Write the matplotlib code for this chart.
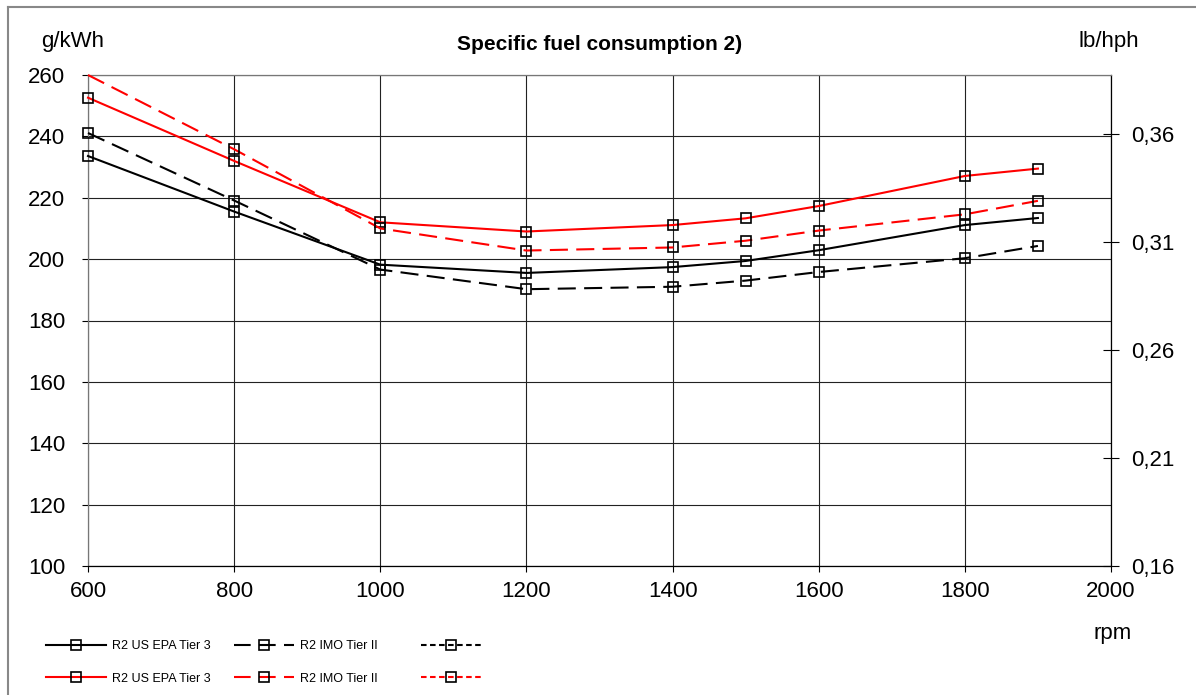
import matplotlib
matplotlib.use("Agg")
import matplotlib.pyplot as plt
from matplotlib.lines import Line2D
from matplotlib.ticker import FuncFormatter, MultipleLocator
import numpy as np

plt.rcParams['font.family'] = ['Liberation Sans', 'DejaVu Sans']
plt.rcParams['lines.scale_dashes'] = False

rpm = [600, 800, 1000, 1200, 1400, 1500, 1600, 1800, 1900]
black_epa = [233.6, 215.5, 198.2, 195.5, 197.4, 199.4, 202.9, 211.1, 213.4]
black_imo = [241.1, 219.1, 196.6, 190.2, 191.0, 193.0, 195.8, 200.3, 204.3]
red_epa = [252.6, 232.0, 212.0, 209.0, 211.1, 213.3, 217.3, 227.1, 229.5]
red_imo = [260.0, 235.8, 210.0, 202.8, 203.8, 206.0, 209.3, 214.6, 219.0]
labels = ["R2 US EPA Tier 3", "R2 IMO Tier II", ""]

W, H = 1196, 695
fig = plt.figure(figsize=(W / 100, H / 100), dpi=100)
ax = fig.add_axes([88 / W, 1 - 566 / H, (1111 - 88) / W, (566 - 75) / H])

dash_long = (13, 6)
dash_short = (4, 2.5)
mk = dict(marker='s', markersize=7.3, markerfacecolor='none',
          markeredgecolor='black', markeredgewidth=1.2, clip_on=False)

ax.plot(rpm, black_epa, color='black', lw=1.5, **mk, zorder=3)
ax.plot(rpm, black_imo, color='black', lw=1.5, dashes=dash_long, **mk, zorder=3)
ax.plot(rpm, red_epa, color='#ff0000', lw=1.5, **mk, zorder=4)
ax.plot(rpm, red_imo, color='#ff0000', lw=1.5, dashes=dash_long,
        markevery=list(range(1, len(rpm))), **mk, zorder=4)

ax.set_xlim(600, 2000)
ax.set_ylim(100, 260)
ax.xaxis.set_major_locator(MultipleLocator(200))
ax.yaxis.set_major_locator(MultipleLocator(20))
ax.grid(True, color='#222222', lw=0.8)
ax.set_axisbelow(True)
for s in ['top', 'left']:
    ax.spines[s].set_color('#777777')
for s in ['bottom', 'right']:
    ax.spines[s].set_color('black')
for s in ax.spines.values():
    s.set_linewidth(0.9)
ax.tick_params(axis='y', direction='out', length=4.5, width=0.8, labelsize=16, pad=12)
ax.tick_params(axis='x', direction='out', length=4.5, width=0.8, labelsize=16, pad=6)

ax2 = ax.twinx()
ax2.set_ylim(0.16, 0.16 + 0.05 * (566 - 75) / 108)
ax2.set_yticks([0.16, 0.21, 0.26, 0.31, 0.36])
ax2.yaxis.set_major_formatter(FuncFormatter(lambda v, p: f"{v:.2f}".replace('.', ',')))
ax2.tick_params(axis='y', direction='inout', length=11, width=0.8, labelsize=16, pad=9)
for s in ax2.spines.values():
    s.set_visible(False)

fig.text(41 / W, 1 - 42 / H, "g/kWh", fontsize=16, ha='left', va='center')
fig.text(1078 / W, 1 - 42 / H, "lb/hph", fontsize=16, ha='left', va='center')
fig.text(600 / W, 1 - 45 / H, "Specific fuel consumption 2)", fontsize=15,
         fontweight='bold', ha='center', va='center')
fig.text(1113 / W, 1 - 633 / H, "rpm", fontsize=16, ha='center', va='center')

# figure frame
fig.add_artist(Line2D([8 / W, 1], [1 - 7 / H, 1 - 7 / H], transform=fig.transFigure,
                      color='#888888', lw=1.5))
fig.add_artist(Line2D([8 / W, 8 / W], [0, 1 - 7 / H], transform=fig.transFigure,
                      color='#888888', lw=1.5))

lmk = dict(marker='s', markersize=7.3, markerfacecolor='none',
           markeredgecolor='black', markeredgewidth=1.2, lw=1.5)
cols = [
    ([Line2D([], [], color='black', **lmk), Line2D([], [], color='#ff0000', **lmk)], labels[0], 46),
    ([Line2D([], [], color='black', dashes=(12, 6), **lmk),
      Line2D([], [], color='#ff0000', dashes=(12, 6), **lmk)], labels[1], 234),
    ([Line2D([], [], color='black', dashes=dash_short, **lmk),
      Line2D([], [], color='#ff0000', dashes=dash_short, **lmk)], labels[2], 421),
]
for handles, lab, x0 in cols:
    fig.legend(handles, [lab, lab], loc='upper left',
               bbox_to_anchor=(x0 / W, 1 - 640 / H), bbox_transform=fig.transFigure,
               frameon=False, fontsize=9, handlelength=4.8, handletextpad=0.5,
               borderpad=0, borderaxespad=0, labelspacing=1.65, numpoints=1)

fig.savefig("out.png", dpi=100)
